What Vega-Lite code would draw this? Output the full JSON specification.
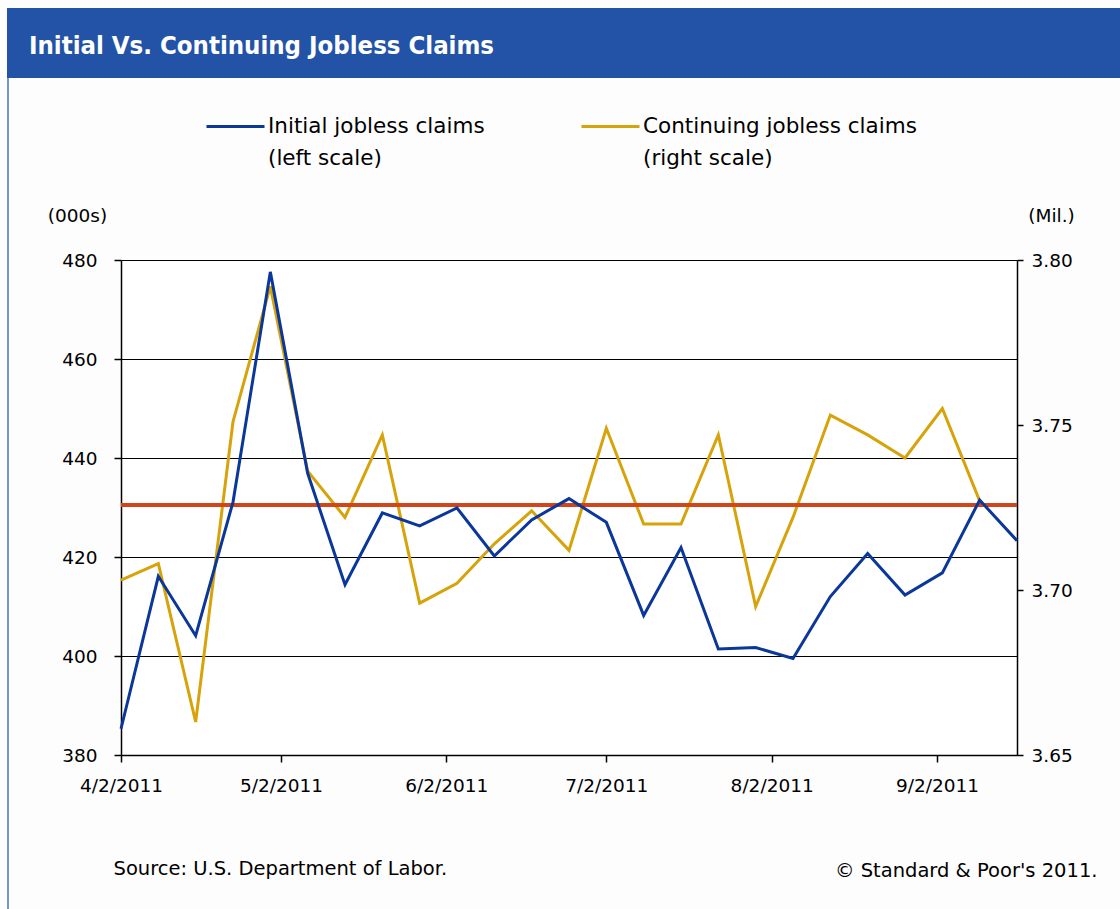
{
  "$schema": "https://vega.github.io/schema/vega-lite/v6.json",
  "background": "#fdfdfd",
  "padding": {"left": 7, "top": 8, "right": 0, "bottom": 0},
  "bounds": "flush",
  "spacing": 0,
  "config": {
    "view": {"stroke": null},
    "axis": {
      "domainColor": "#000", "tickColor": "#000", "labelColor": "#000", "titleColor": "#000",
      "gridColor": "#000", "gridOpacity": 1, "gridWidth": 1, "domainWidth": 1.5, "tickWidth": 1.5,
      "labelFont": "DejaVu Sans", "labelFontSize": 18.5, "titleFont": "DejaVu Sans", "titleFontSize": 18.5,
      "titleFontWeight": "normal", "titleAngle": 0
    }
  },
  "vconcat": [
    {
      "width": 1113, "height": 70,
      "view": {"fill": "#2353a6", "stroke": null},
      "data": {"values": [{}]},
      "mark": {"type": "rect", "color": "#2353a6"},
      "encoding": {},
      "title": {
        "text": "Initial Vs. Continuing Jobless Claims",
        "anchor": "start", "frame": "group", "orient": "top",
        "baseline": "middle", "offset": -63, "dx": 22,
        "color": "#ffffff", "font": "Liberation Sans Narrow, DejaVu Sans Condensed, Roboto Condensed, Liberation Sans",
        "fontSize": 25.5, "fontWeight": "bold"
      }
    },
    {
      "bounds": "flush",
      "spacing": 112,
      "hconcat": [
        {
          "width": 2, "height": 831,
          "view": {"fill": "#7396d4", "stroke": null},
          "data": {"values": [{}]},
          "mark": {"type": "rect", "color": "#7396d4"},
          "encoding": {}
        },
        {
          "bounds": "flush",
          "spacing": 10,
          "vconcat": [
            {
              "width": 1, "height": 172,
              "data": {"values": [{}]},
              "mark": {"type": "rect", "opacity": 0},
              "encoding": {}
            },
            {
              "width": 896, "height": 495,
              "view": {"fill": "#ffffff", "stroke": null},
              "data": {"values": [
                {"week": "2011/04/02", "initial": 385.3, "continuing": 3.703},
                {"week": "2011/04/09", "initial": 416.1, "continuing": 3.708},
                {"week": "2011/04/16", "initial": 404.1, "continuing": 3.660},
                {"week": "2011/04/23", "initial": 431.1, "continuing": 3.751},
                {"week": "2011/04/30", "initial": 477.6, "continuing": 3.792},
                {"week": "2011/05/07", "initial": 436.9, "continuing": 3.736},
                {"week": "2011/05/14", "initial": 414.4, "continuing": 3.722},
                {"week": "2011/05/21", "initial": 428.9, "continuing": 3.747},
                {"week": "2011/05/28", "initial": 426.3, "continuing": 3.696},
                {"week": "2011/06/04", "initial": 429.9, "continuing": 3.702},
                {"week": "2011/06/11", "initial": 420.2, "continuing": 3.714},
                {"week": "2011/06/18", "initial": 427.5, "continuing": 3.724},
                {"week": "2011/06/25", "initial": 431.8, "continuing": 3.712},
                {"week": "2011/07/02", "initial": 427.0, "continuing": 3.749},
                {"week": "2011/07/09", "initial": 408.2, "continuing": 3.720},
                {"week": "2011/07/16", "initial": 421.9, "continuing": 3.720},
                {"week": "2011/07/23", "initial": 401.4, "continuing": 3.747},
                {"week": "2011/07/30", "initial": 401.7, "continuing": 3.695},
                {"week": "2011/08/06", "initial": 399.5, "continuing": 3.722},
                {"week": "2011/08/13", "initial": 412.0, "continuing": 3.753},
                {"week": "2011/08/20", "initial": 420.7, "continuing": 3.747},
                {"week": "2011/08/27", "initial": 412.3, "continuing": 3.740},
                {"week": "2011/09/03", "initial": 416.8, "continuing": 3.755},
                {"week": "2011/09/10", "initial": 431.5, "continuing": 3.727},
                {"week": "2011/09/17", "initial": 423.3, "continuing": null}
              ]},
              "resolve": {"scale": {"y": "independent"}, "axis": {"x": "independent"}},
              "layer": [
                {
                  "mark": {"type": "line", "strokeWidth": 3},
                  "encoding": {
                    "x": {
                      "field": "week", "type": "temporal",
                      "scale": {"domain": [{"year": 2011, "month": 4, "date": 2}, {"year": 2011, "month": 9, "date": 17}]},
                      "axis": {
                        "orient": "top", "domain": false, "ticks": false, "labels": false, "grid": false,
                        "title": "© Standard & Poor's 2011.", "titleX": 976, "titleY": 610,
                        "titleAlign": "right", "titleBaseline": "middle", "titleFontSize": 19.5
                      }
                    },
                    "y": {
                      "field": "continuing", "type": "quantitative",
                      "scale": {"domain": [3.65, 3.8], "nice": false, "zero": false},
                      "axis": {
                        "orient": "right", "values": [3.65, 3.7, 3.75, 3.8], "format": ".2f",
                        "grid": false, "tickSize": 6, "labelPadding": 8,
                        "title": "(Mil.)", "titleX": 34, "titleY": -45, "titleAlign": "center", "titleBaseline": "middle"
                      }
                    },
                    "color": {"datum": "Continuing jobless claims"}
                  }
                },
                {
                  "mark": {"type": "rule", "color": "#d2441a", "strokeWidth": 3.5},
                  "encoding": {
                    "y": {"datum": 430.5, "type": "quantitative", "scale": {"domain": [380, 480], "nice": false, "zero": false}, "axis": null}
                  }
                },
                {
                  "mark": {"type": "line", "strokeWidth": 3},
                  "encoding": {
                    "x": {
                      "field": "week", "type": "temporal",
                      "axis": {
                        "orient": "bottom", "grid": false, "tickSize": 7, "labelPadding": 14,
                        "values": [
                          {"year": 2011, "month": 4, "date": 2}, {"year": 2011, "month": 5, "date": 2},
                          {"year": 2011, "month": 6, "date": 2}, {"year": 2011, "month": 7, "date": 2},
                          {"year": 2011, "month": 8, "date": 2}, {"year": 2011, "month": 9, "date": 2}
                        ],
                        "format": "%-m/%-d/%Y", "labelAlign": "center",
                        "title": "Source: U.S. Department of Labor.", "titleX": -8, "titleY": 113,
                        "titleAlign": "left", "titleBaseline": "middle", "titleFontSize": 19.5
                      }
                    },
                    "y": {
                      "field": "initial", "type": "quantitative",
                      "scale": {"domain": [380, 480], "nice": false, "zero": false},
                      "axis": {
                        "orient": "left", "values": [380, 400, 420, 440, 460, 480],
                        "grid": true, "tickSize": 7, "labelPadding": 17,
                        "title": "(000s)", "titleX": -44, "titleY": -45, "titleAlign": "center", "titleBaseline": "middle"
                      }
                    },
                    "color": {
                      "datum": "Initial jobless claims",
                      "scale": {"domain": ["Initial jobless claims", "Continuing jobless claims"], "range": ["#0a3799", "#d6a30a"]},
                      "legend": {
                        "orient": "none", "legendX": 198, "legendY": 88, "direction": "horizontal",
                        "title": null, "symbolType": "stroke", "symbolSize": 3364, "symbolStrokeWidth": 3,
                        "labelFont": "DejaVu Sans", "labelFontSize": 21.5, "labelColor": "#000", "labelLimit": 400,
                        "labelOffset": 2, "columnPadding": 90, "padding": 0,
                        "labelExpr": "datum.label == 'Initial jobless claims' ? ['Initial jobless claims', '(left scale)'] : ['Continuing jobless claims', '(right scale)']",
                        "labelBaseline": "middle",
                        "encode": {"labels": {"update": {"lineHeight": {"value": 32}}}}
                      }
                    }
                  }
                }
              ]
            }
          ]
        }
      ]
    }
  ]
}
